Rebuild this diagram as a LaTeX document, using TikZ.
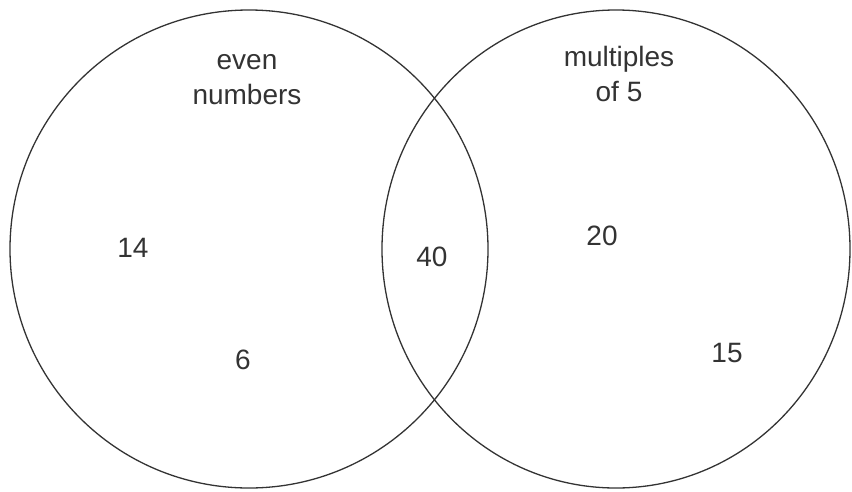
\documentclass[tikz,border=0pt]{standalone}
\usepackage{fontspec}
\setmainfont{Liberation Sans}
\usetikzlibrary{positioning}

\begin{document}
\begin{tikzpicture}[x=1pt,y=-1pt,
  setline/.style={line width=1.3pt,black!80},
  lbl/.style={font=\fontsize{28}{35}\selectfont,text=black!80,align=center,inner sep=0pt}]
  \useasboundingbox (0,0) rectangle (852,491);
  % the two sets
  \draw[setline] (249,249) ellipse [x radius=239pt, y radius=239pt];
  \draw[setline] (616,249) ellipse [x radius=234pt, y radius=239pt];
  \node[lbl] (evenlbl) at (247,80) {even\\numbers};
  \node[lbl] (fivelbl) at (619,74) {multiples\\of 5};
  % members
  \node[lbl] (n14) at (133,248) {14};
  \node[lbl] (n6) at (243,360) {6};
  \node[lbl] (n40) at (432,257) {40};
  \node[lbl] (n20) at (602,236) {20};
  \node[lbl] (n15) at (727,353) {15};
\end{tikzpicture}
\end{document}
